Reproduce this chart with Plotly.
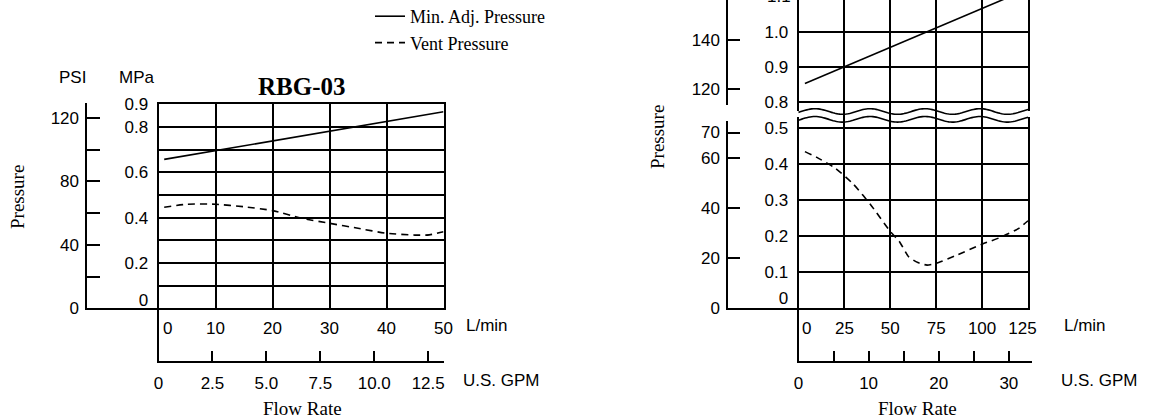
import numpy as np
import plotly.graph_objects as go

# ---------------- data ----------------
# RBG-03 (left chart)
left_flow_solid = [1, 10, 20, 30, 40, 50]                       # L/min
left_min_adj = [0.657, 0.696, 0.738, 0.781, 0.824, 0.867]        # MPa
left_flow_dash = [1, 5, 10, 15, 20, 25, 30, 35, 40, 45, 47.5, 50]
left_vent = [0.446, 0.459, 0.459, 0.448, 0.431, 0.398, 0.375, 0.353, 0.331, 0.323, 0.324, 0.338]

# right chart
right_flow_solid = [3.5, 25, 50, 75, 100, 125]
right_min_adj = [0.852, 0.900, 0.955, 1.011, 1.067, 1.122]
right_flow_dash = [3.5, 10, 20, 30, 40, 50, 55, 60, 65, 70, 75, 85, 100, 110, 120, 125]
right_vent = [0.435, 0.419, 0.389, 0.344, 0.283, 0.213, 0.185, 0.143, 0.127, 0.120, 0.125, 0.145, 0.178, 0.197, 0.222, 0.243]

# tick labels
left_lmin_ticks = ["0", "10", "20", "30", "40", "50"]
left_gpm_ticks = ["0", "2.5", "5.0", "7.5", "10.0", "12.5"]
left_mpa_ticks = ["0", "0.2", "0.4", "0.6", "0.8", "0.9"]
left_psi_ticks = ["0", "", "40", "", "80", "", "120"]
right_lmin_ticks = ["0", "25", "50", "75", "100", "125"]
right_gpm_ticks = ["0", "", "10", "", "20", "", "30"]
right_mpa_low_ticks = ["0", "0.1", "0.2", "0.3", "0.4", "0.5"]
right_mpa_up_ticks = ["0.8", "0.9", "1.0"]
right_psi_low_ticks = ["0", "20", "40", "60", "70"]
right_psi_up_ticks = ["120", "140"]

# ---------------- helpers ----------------
W, H = 1150, 419
def dx(p):
    return p / W
def dy(p):
    return 1 - p / H

SANS = "Liberation Sans, Arial, sans-serif"
SERIF = "Liberation Serif, Times New Roman, serif"
tickfont = dict(family=SANS, size=17, color="black")
FRAME = 1.8
GRID = 1.6
DASH = "7px,5px"

def base_axis(**kw):
    d = dict(showgrid=False, zeroline=False, ticks="", showticklabels=False,
             showline=False, linecolor="black", linewidth=FRAME, tickfont=tickfont,
             fixedrange=True, automargin=False)
    d.update(kw)
    return d

fig = go.Figure()

# data traces
fig.add_trace(go.Scatter(x=left_flow_solid, y=left_min_adj, mode="lines",
                         line=dict(color="black", width=1.6), name="Min. Adj. Pressure",
                         xaxis="x", yaxis="y"))
fig.add_trace(go.Scatter(x=left_flow_dash, y=left_vent, mode="lines",
                         line=dict(color="black", width=1.6, dash=DASH, shape="spline", smoothing=0.6),
                         name="Vent Pressure", xaxis="x", yaxis="y"))
fig.add_trace(go.Scatter(x=right_flow_solid, y=right_min_adj, mode="lines",
                         line=dict(color="black", width=1.6), showlegend=False,
                         xaxis="x5", yaxis="y5"))
fig.add_trace(go.Scatter(x=right_flow_dash, y=right_vent, mode="lines",
                         line=dict(color="black", width=1.6, dash=DASH, shape="spline", smoothing=0.6),
                         showlegend=False, xaxis="x4", yaxis="y4"))
# empty traces so that frame-only subplots exist
for k in ["2", "3", "6", "7", "8", "9"]:
    fig.add_trace(go.Scatter(x=[None], y=[None], mode="lines", showlegend=False,
                             hoverinfo="skip", xaxis="x" + k, yaxis="y" + k))

minor_grid = lambda vals: dict(tickmode="array", tickvals=vals, showgrid=True,
                               gridcolor="black", gridwidth=GRID, ticks="")

layout_axes = dict(
    # ---- left main box ----
    xaxis=base_axis(domain=[dx(158.5), dx(443.5)], range=[0, 50], anchor="y",
                    showline=True, mirror=True, showticklabels=True,
                    tickmode="array", tickvals=[1.6, 10, 20, 30, 40, 50], ticktext=left_lmin_ticks,
                    ticklabelstandoff=3, minor=minor_grid([10, 20, 30, 40])),
    yaxis=base_axis(domain=[dy(308.3), dy(104.3)], range=[0, 0.9], anchor="x",
                    showline=True, mirror=True, showticklabels=True,
                    tickmode="array", tickvals=[0.037, 0.2, 0.4, 0.6, 0.8, 0.9], ticktext=left_mpa_ticks,
                    ticklabelstandoff=5, minor=minor_grid([0.1, 0.2, 0.3, 0.4, 0.5, 0.6, 0.7, 0.8])),
    # ---- left GPM axis ----
    xaxis2=base_axis(domain=[dx(158.5), dx(443.5)], range=[0, 50 / 3.785], anchor="y2",
                     showline=True, showticklabels=True, ticks="inside", ticklen=10, tickwidth=1.5,
                     tickcolor="black", tickmode="array", tickvals=[0, 2.5, 5, 7.5, 10, 12.5],
                     ticktext=left_gpm_ticks, ticklabelstandoff=6),
    yaxis2=base_axis(domain=[dy(361), dy(308.3)], range=[0, 1], anchor="x2", showline=True),
    # ---- left PSI axis ----
    xaxis3=base_axis(domain=[dx(87.3), dx(158.5)], range=[0, 1], anchor="y3", showline=True),
    yaxis3=base_axis(domain=[dy(308.3), dy(103)], range=[0, 129.4], anchor="x3",
                     showline=True, showticklabels=True, ticks="inside", ticklen=13, tickwidth=1.5,
                     tickcolor="black", tickmode="array", tickvals=[0, 20, 40, 60, 80, 100, 120],
                     ticktext=left_psi_ticks, ticklabelstandoff=3),
    # ---- right lower box ----
    xaxis4=base_axis(domain=[dx(798.5), dx(1028)], range=[0, 125], anchor="y4",
                     showline=True, showticklabels=True, tickmode="array",
                     tickvals=[4.5, 25, 50, 75, 100, 122], ticktext=right_lmin_ticks,
                     ticklabelstandoff=3),
    yaxis4=base_axis(domain=[dy(308.3), dy(116.7)], range=[0, 0.532], anchor="x4",
                     showline=True, mirror=True, showticklabels=True, tickmode="array",
                     tickvals=[0.028, 0.1, 0.2, 0.3, 0.4, 0.5], ticktext=right_mpa_low_ticks,
                     ticklabelstandoff=5, minor=minor_grid([0.1, 0.2, 0.3, 0.4, 0.5])),
    # ---- right upper box ----
    xaxis5=base_axis(domain=[dx(798.5), dx(1028)], range=[0, 125], anchor="y5"),
    yaxis5=base_axis(domain=[dy(111), 1], range=[0.773, 1.0906], anchor="x5",
                     showline=True, mirror=True, showticklabels=True, tickmode="array",
                     tickvals=[0.8, 0.9, 1.0], ticktext=right_mpa_up_ticks,
                     ticklabelstandoff=5, minor=minor_grid([0.8, 0.9, 1.0])),
    # ---- right vertical grid (through the break) ----
    xaxis6=base_axis(domain=[dx(798.5), dx(1028)], range=[0, 125], anchor="y6",
                     minor=minor_grid([25, 50, 75, 100])),
    yaxis6=base_axis(domain=[dy(308.3), 1], range=[0, 1], anchor="x6"),
    # ---- right PSI lower ----
    xaxis7=base_axis(domain=[dx(728.3), dx(798.5)], range=[0, 1], anchor="y7", showline=True),
    yaxis7=base_axis(domain=[dy(308.3), dy(120.7)], range=[0, 74.7], anchor="x7",
                     showline=True, showticklabels=True, ticks="inside", ticklen=12, tickwidth=1.5,
                     tickcolor="black", tickmode="array", tickvals=[0, 20, 40, 60, 70],
                     ticktext=right_psi_low_ticks, ticklabelstandoff=3),
    # ---- right PSI upper ----
    xaxis8=base_axis(domain=[dx(728.3), dx(798.5)], range=[0, 1], anchor="y8"),
    yaxis8=base_axis(domain=[dy(105), 1], range=[113.6, 156.2], anchor="x8",
                     showline=True, showticklabels=True, ticks="inside", ticklen=12, tickwidth=1.5,
                     tickcolor="black", tickmode="array", tickvals=[120, 140],
                     ticktext=right_psi_up_ticks, ticklabelstandoff=3),
    # ---- right GPM axis ----
    xaxis9=base_axis(domain=[dx(798.5), dx(1032)], range=[0, 33.3], anchor="y9",
                     showline=True, showticklabels=True, ticks="inside", ticklen=10, tickwidth=1.5,
                     tickcolor="black", tickmode="array", tickvals=[0, 5, 10, 15, 20, 25, 30],
                     ticktext=right_gpm_ticks, ticklabelstandoff=6),
    yaxis9=base_axis(domain=[dy(361), dy(308.3)], range=[0, 1], anchor="x9", showline=True),
)

def ann(text, xp, yp, size=17, family=SANS, xanchor="center", angle=0, **kw):
    d = dict(text=text, x=dx(xp), y=dy(yp), xref="paper", yref="paper", showarrow=False,
             xanchor=xanchor, yanchor="middle", textangle=angle,
             font=dict(family=family, size=size, color="black"))
    d.update(kw)
    return d

annotations = [
    ann("PSI", 72, 78),
    ann("MPa", 137, 78),
    ann("<b>RBG-03</b>", 302, 86, size=25, family=SERIF),
    ann("Pressure", 17, 197, size=19, family=SERIF, angle=-90),
    ann("Pressure", 657, 137, size=19, family=SERIF, angle=-90),
    ann("Flow Rate", 302, 408, size=19, family=SERIF),
    ann("Flow Rate", 917, 408, size=19, family=SERIF),
    ann("L/min", 464, 325, xanchor="left"),
    ann("L/min", 1062, 325, xanchor="left"),
    ann("U.S. GPM", 461, 380, xanchor="left"),
    ann("U.S. GPM", 1059, 380, xanchor="left"),
    ann("1.1", 793, -3.5, xanchor="right"),
]

# wavy break lines (decoration)
def wave_path(center_px, amp_px, period_px=55.0, phase_px=870.0):
    xs = np.linspace(798.5, 1028, 140)
    parts = []
    for i, xp in enumerate(xs):
        yp = center_px - amp_px * np.cos(2 * np.pi * (xp - phase_px) / period_px)
        parts.append(("M" if i == 0 else "L") + f"{dx(xp):.5f},{dy(yp):.5f}")
    return " ".join(parts)

shapes = [
    dict(type="path", path=wave_path(111.5, 2.8), xref="paper", yref="paper",
         line=dict(color="black", width=1.6)),
    dict(type="path", path=wave_path(119.3, 2.8), xref="paper", yref="paper",
         line=dict(color="black", width=1.6)),
]

fig.update_layout(
    width=W, height=H, margin=dict(l=0, r=0, t=0, b=0, autoexpand=False),
    paper_bgcolor="white", plot_bgcolor="rgba(0,0,0,0)",
    showlegend=True,
    legend=dict(x=dx(370), y=dy(-2), xanchor="left", yanchor="top",
                bgcolor="rgba(0,0,0,0)", font=dict(family=SERIF, size=18, color="black"),
                tracegroupgap=0, itemwidth=30),
    annotations=annotations, shapes=shapes,
    **layout_axes,
)

fig.write_html(
    "out.html",
    config={"displayModeBar": False},
    post_script="document.body.style.margin='0px';document.body.style.overflow='hidden';",
)
